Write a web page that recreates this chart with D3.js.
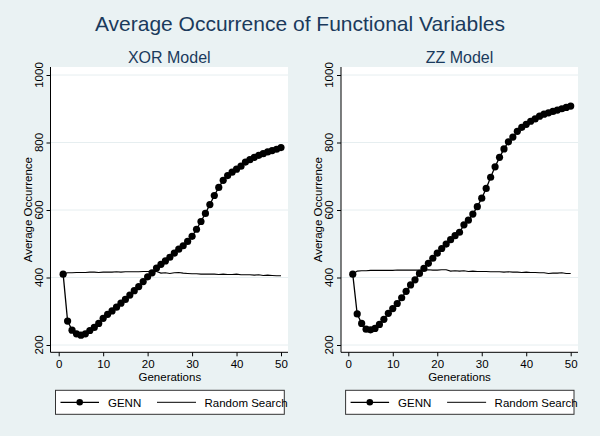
<!DOCTYPE html>
<html>
<head>
<meta charset="utf-8">
<script src="https://cdn.jsdelivr.net/npm/d3@7"></script>
<style>
  html, body { margin: 0; padding: 0; background: #EAF2F3; }
  svg { display: block; }
  text { font-family: "Liberation Sans", Arial, sans-serif; }
</style>
</head>
<body>
<svg id="chart" width="600" height="436"></svg>
<script>
// ---- data ----
const generations = d3.range(1, 51);
const xorGenn = [410,271,244,233,229,233,243,252,264,279,291,301,312,324,335,348,361,373,388,402,
                 414,428,439,449,460,472,484,494,507,522,543,566,590,616,643,667,688,702,712,721,
                 730,742,749,756,762,767,772,776,780,785];
const xorRandom = [410,414,414,415,415,415,416,416,415,416,416,416,417,416,417,417,417,417,418,418,
                   419,418,413,414,412,414,415,413,412,411,411,410,410,410,410,409,410,409,409,410,
                   408,408,408,407,408,406,407,406,405,405];
const zzGenn = [410,292,264,247,245,249,261,276,294,308,323,340,359,378,393,412,427,442,457,472,
                486,499,512,524,534,556,570,588,610,635,664,697,728,756,781,802,816,833,845,854,
                863,870,878,884,888,892,896,900,904,908];
const zzRandom = [410,419,420,420,421,421,421,421,421,421,422,422,422,422,422,422,422,423,422,422,
                  423,423,419,420,419,420,418,419,418,418,418,417,417,417,416,417,416,416,415,416,
                  415,415,414,414,412,413,413,414,412,412];
const xTicks = [0, 10, 20, 30, 40, 50];
const yTicks = [200, 400, 600, 800, 1000];
const panelTitles = ["XOR Model", "ZZ Model"];
const seriesNames = ["GENN", "Random Search"];
const mainTitle = "Average Occurrence of Functional Variables";
const xTitle = "Generations";
const yTitle = "Average Occurrence";

const svg = d3.select("#chart");
svg.append("rect").attr("width", 600).attr("height", 436).attr("fill", "#EAF2F3");

svg.append("text").attr("x", 300).attr("y", 31).attr("text-anchor", "middle")
  .attr("font-size", 21).attr("fill", "#1a3a5c").text(mainTitle);

const panels = [
  {title: panelTitles[0], genn: xorGenn, rnd: xorRandom, left: 50.5, right: 288, x0: 58.7, x1: 281, ylab: 43.3, ytit: 32, leg: [55.5, 284.3]},
  {title: panelTitles[1], genn: zzGenn, rnd: zzRandom, left: 341, right: 578, x0: 348.3, x1: 570.7, ylab: 333.3, ytit: 322, leg: [345.6, 574]}
];

const plotTop = 67, plotBottom = 352.3;
const y = d3.scaleLinear().domain([200, 1000]).range([345, 75]);

panels.forEach(p => {
  const g = svg.append("g");
  const x = d3.scaleLinear().domain([0, 50]).range([p.x0, p.x1]);
  g.append("rect").attr("x", p.left).attr("y", plotTop).attr("width", p.right - p.left)
    .attr("height", plotBottom - plotTop).attr("fill", "#ffffff");
  // grid
  g.selectAll(".grid").data(yTicks).enter().append("line")
    .attr("x1", p.left).attr("x2", p.right)
    .attr("y1", d => y(d)).attr("y2", d => y(d))
    .attr("stroke", "#e6eef0").attr("stroke-width", 1);
  // panel title
  g.append("text").attr("x", (p.left + p.right) / 2).attr("y", 63).attr("text-anchor", "middle")
    .attr("font-size", 16).attr("fill", "#1a3a5c").text(p.title);
  // y axis
  const yAxis = d3.axisLeft(y).tickValues(yTicks).tickSize(4).tickFormat(d3.format("d"));
  const ya = g.append("g").attr("transform", `translate(${p.left},0)`).call(yAxis);
  ya.select(".domain").remove();
  g.append("line").attr("x1", p.left).attr("x2", p.left).attr("y1", plotTop).attr("y2", plotBottom).attr("stroke", "#000");
  ya.selectAll(".tick line").attr("stroke", "#000");
  ya.selectAll(".tick text").remove();
  g.selectAll(".ylab").data(yTicks).enter().append("text")
    .attr("transform", d => `translate(${p.ylab},${y(d)}) rotate(-90)`)
    .attr("text-anchor", "middle").attr("font-size", 11.5).attr("fill", "#000").text(d => d);
  g.append("text").attr("transform", `translate(${p.ytit},${(plotTop + plotBottom) / 2}) rotate(-90)`)
    .attr("text-anchor", "middle").attr("font-size", 11.5).attr("fill", "#000").text(yTitle);
  // x axis
  const xAxis = d3.axisBottom(x).tickValues(xTicks).tickSize(4).tickPadding(5);
  const xa = g.append("g").attr("transform", `translate(0,${plotBottom})`).call(xAxis);
  xa.select(".domain").remove();
  g.append("line").attr("x1", p.left).attr("x2", p.right).attr("y1", plotBottom).attr("y2", plotBottom).attr("stroke", "#000");
  xa.selectAll(".tick line").attr("stroke", "#000");
  xa.selectAll(".tick text").attr("font-size", 11.5).attr("fill", "#000")
    .attr("font-family", "Liberation Sans, Arial, sans-serif").attr("dy", null).attr("y", 16.2);
  g.append("text").attr("x", (p.x0 + p.x1) / 2).attr("y", 381.2).attr("text-anchor", "middle")
    .attr("font-size", 11.5).attr("fill", "#000").text(xTitle);
  // lines
  const line = d3.line().x((d, i) => x(generations[i])).y(d => y(d));
  g.append("path").attr("d", line(p.rnd)).attr("fill", "none").attr("stroke", "#000").attr("stroke-width", 1.1);
  g.append("path").attr("d", line(p.genn)).attr("fill", "none").attr("stroke", "#000").attr("stroke-width", 1.3);
  g.selectAll(".dot").data(p.genn).enter().append("circle")
    .attr("cx", (d, i) => x(generations[i])).attr("cy", d => y(d)).attr("r", 3.6).attr("fill", "#000");
  // legend
  const L = p.leg[0];
  const lg = g.append("g");
  lg.append("rect").attr("x", L).attr("y", 390.3).attr("width", p.leg[1] - L).attr("height", 24)
    .attr("fill", "#ffffff").attr("stroke", "#333").attr("stroke-width", 1);
  lg.append("line").attr("x1", L + 5).attr("x2", L + 43.5).attr("y1", 402.3).attr("y2", 402.3).attr("stroke", "#000").attr("stroke-width", 1.3);
  lg.append("circle").attr("cx", L + 24.2).attr("cy", 402.3).attr("r", 3.3).attr("fill", "#000");
  lg.append("text").attr("x", L + 52.5).attr("y", 406.5).attr("font-size", 11.5).attr("fill", "#000").text(seriesNames[0]);
  lg.append("line").attr("x1", L + 101.5).attr("x2", L + 140.5).attr("y1", 402.3).attr("y2", 402.3).attr("stroke", "#000").attr("stroke-width", 1);
  lg.append("text").attr("x", L + 149).attr("y", 406.5).attr("font-size", 11.5).attr("fill", "#000").text(seriesNames[1]);
});
</script>
</body>
</html>
